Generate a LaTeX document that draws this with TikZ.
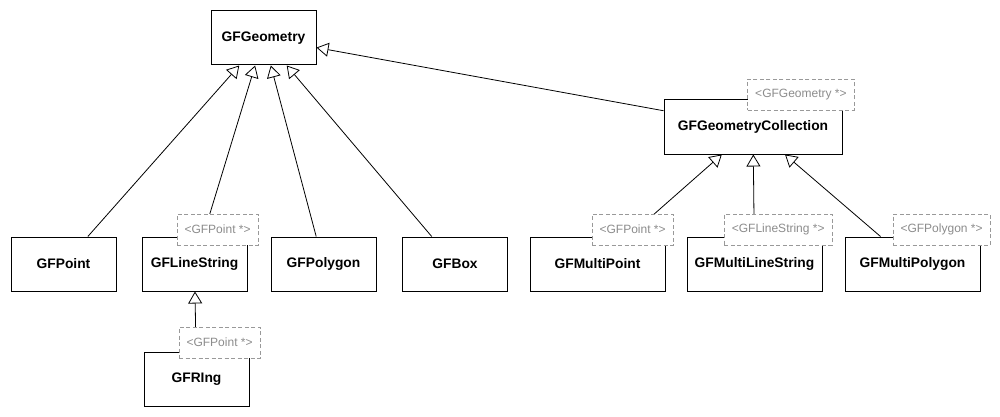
\documentclass[tikz,border=0pt]{standalone}
\usepackage{fontspec}
\setmainfont{Liberation Sans}
\usetikzlibrary{arrows.meta, calc}

\begin{document}
\begin{tikzpicture}[x=1pt, y=-1pt,
    cls/.style={draw, line width=1pt, fill=white, minimum width=105pt, minimum height=54pt,
        inner sep=0pt, font=\fontsize{13.8}{16}\selectfont\bfseries},
    tmpl/.style={draw=black!40, dash pattern=on 4pt off 2.5pt, line width=0.8pt, fill=white,
        text=black!45, inner xsep=7.5pt, inner ysep=0pt, minimum height=31pt,
        font=\fontsize{12}{14}\selectfont},
    inherit/.style={-{Triangle[open, length=12pt, width=14pt]}, line width=0.8pt}]

    \useasboundingbox (0,0) rectangle (1000,417);

    % Base class
    \node[cls] (geom) at (263.5,38) {GFGeometry};

    % Simple geometries
    \node[cls] (point) at (63.5,264) {GFPoint};
    \node[cls] (lstr) at (194.5,264) {GFLineString};
    \node[cls] (poly) at (323.5,264) {GFPolygon};
    \node[cls] (box) at (455,264) {GFBox};
    \node[cls] (ring) at (196.5,379) {GFRIng};

    % Collections
    \node[cls, minimum width=178pt] (coll) at (753,127) {GFGeometryCollection};
    \node[cls, minimum width=135pt] (mpoint) at (597.5,264) {GFMultiPoint};
    \node[cls, minimum width=135pt] (mlstr) at (754.5,264) {GFMultiLineString};
    \node[cls, minimum width=135pt] (mpoly) at (912.5,264) {GFMultiPolygon};

    % Inheritance
    \foreach \sub in {point, lstr, poly, box, coll}
        \draw[inherit] (\sub) -- (geom);
    \draw[inherit] (ring) -- (lstr);
    \foreach \sub in {mpoint, mlstr, mpoly}
        \draw[inherit] (\sub) -- (coll);

    % Template parameters
    \node[tmpl, anchor=south east] (lstrT) at ($(lstr.north east)+(11,9)$) {<GFPoint *>};
    \node[tmpl, anchor=south east] (ringT) at ($(ring.north east)+(11,7)$) {<GFPoint *>};
    \node[tmpl, anchor=south east] (collT) at ($(coll.north east)+(12,11)$) {<GFGeometry *>};
    \node[tmpl, anchor=south east] (mpointT) at ($(mpoint.north east)+(8,9)$) {<GFPoint *>};
    \node[tmpl, anchor=south east] (mlstrT) at ($(mlstr.north east)+(10,9)$) {<GFLineString *>};
    \node[tmpl, anchor=south east] (mpolyT) at ($(mpoly.north east)+(10,9)$) {<GFPolygon *>};

\end{tikzpicture}
\end{document}
